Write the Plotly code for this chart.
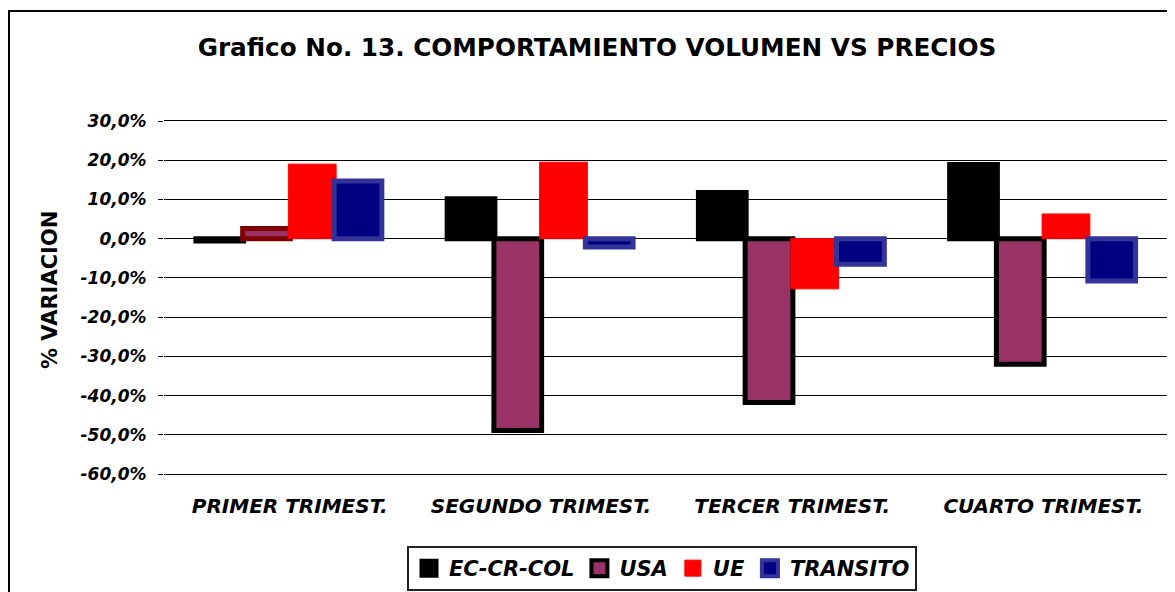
import plotly.graph_objects as go

categories = ["PRIMER TRIMEST.", "SEGUNDO TRIMEST.", "TERCER TRIMEST.", "CUARTO TRIMEST."]
series_names = ["EC-CR-COL", "USA", "UE", "TRANSITO"]
ec_cr_col = [-0.6, 10.2, 11.8, 18.9]
usa = [2.6, -48.9, -41.8, -32.0]
ue = [19.0, 19.5, -12.8, 6.3]
transito = [14.7, -2.1, -6.5, -10.8]
y_ticks = [30, 20, 10, 0, -10, -20, -30, -40, -50, -60]
y_tick_labels = ["30,0%", "20,0%", "10,0%", "0,0%", "-10,0%", "-20,0%", "-30,0%", "-40,0%", "-50,0%", "-60,0%"]
title_text = "Grafico No. 13. COMPORTAMIENTO VOLUMEN VS PRECIOS"
y_title = "% VARIACION"

FONT = "DejaVu Sans"
OFF = 8  # page body margin of the html page
PAGE_W, PAGE_H = 1175, 592
W, H = PAGE_W - OFF, PAGE_H - OFF
L, R, T, B = 164 - OFF, PAGE_W - 1169, 121 - OFF, PAGE_H - 474
PW, PH = W - L - R, H - T - B


def px_x(page_x):
    return (page_x - OFF - L) / PW


def px_y(page_y):
    return ((H - B) - (page_y - OFF)) / PH


fills = ["#000000", "#993366", "#FF0000", "#000080"]
borders = ["#000000", "#000000", "#FF0000", "#333399"]
bar_line_colors = [
    "#000000",
    ["#800000", "#000000", "#000000", "#000000"],
    "#FF0000",
    "#333399",
]
bar_line_widths = [5, 5, 1, 5]
legend_line_widths = [3, 4, 1, 4]
bar_w = 0.19
centers = [-0.278, -0.092, 0.09, 0.272]

fig = go.Figure()
for name, vals, fc, lc, lw, c in zip(series_names, [ec_cr_col, usa, ue, transito], fills,
                                      bar_line_colors, bar_line_widths, centers):
    fig.add_trace(go.Bar(
        x=categories, y=vals, name=name, showlegend=False,
        marker=dict(color=fc, line=dict(color=lc, width=lw)),
        width=bar_w, offset=c - bar_w / 2,
    ))

# legend keys (no data, only legend swatches)
for name, fc, bc, lw in zip(series_names, fills, borders, legend_line_widths):
    fig.add_trace(go.Scatter(
        x=[None], y=[None], mode="markers", name=name, showlegend=True,
        marker=dict(symbol="square", size=16, color=fc, line=dict(color=bc, width=lw)),
    ))

ymin, ymax = min(y_ticks), max(y_ticks)
zero_pos = (0 - ymin) / (ymax - ymin)

fig.update_layout(
    width=W, height=H,
    margin=dict(l=L, r=R, t=T, b=B, autoexpand=False),
    paper_bgcolor="white", plot_bgcolor="white",
    barmode="overlay",
    title=dict(text=title_text, x=(597 - OFF) / W, xanchor="center", y=1 - (47 - OFF) / H, yanchor="middle",
               font=dict(family=FONT, size=24.7, color="black", weight="bold")),
    showlegend=True,
    legend=dict(orientation="h", xref="container", yref="container",
                x=(662 - OFF) / W, xanchor="center", y=1 - (546 - OFF) / H, yanchor="top",
                bordercolor="#222222", borderwidth=2, bgcolor="white", itemsizing="trace",
                font=dict(family=FONT, size=21, color="black", weight="bold", style="italic"),
                traceorder="normal"),
    xaxis=dict(type="category", showgrid=False, zeroline=False, showline=True, mirror=True,
               linecolor="black", linewidth=1,
               ticks="", ticklabelstandoff=14, automargin=False,
               tickfont=dict(family=FONT, size=20, color="black", weight="bold", style="italic")),
    xaxis2=dict(overlaying="x", anchor="free", position=zero_pos, range=[-0.5, len(categories) - 0.5],
                tickvals=[i - 0.5 for i in range(len(categories) + 1)], ticks="outside", ticklen=5,
                tickcolor="black", showticklabels=False, showline=True, linecolor="black",
                linewidth=1, showgrid=False, zeroline=False, side="bottom", automargin=False),
    yaxis=dict(range=[ymin, ymax], tickvals=y_ticks, ticktext=y_tick_labels,
               showgrid=True, gridcolor="black", gridwidth=1,
               zeroline=True, zerolinecolor="black", zerolinewidth=1,
               ticks="outside", ticklen=5, tickcolor="black", ticklabelstandoff=8,
               showline=False, automargin=False,
               tickfont=dict(family=FONT, size=17, color="black", weight="bold", style="italic")),
    annotations=[dict(text=y_title, textangle=-90, xref="paper", yref="paper",
                      x=px_x(50), y=px_y(290),
                      xanchor="center", yanchor="middle", showarrow=False,
                      font=dict(family=FONT, size=21, color="black", weight="bold"))],
    shapes=[dict(type="rect", xref="paper", yref="paper",
                 x0=px_x(9), x1=1.3,
                 y0=-1.0, y1=px_y(11),
                 line=dict(color="black", width=2), fillcolor="rgba(0,0,0,0)", layer="below")],
)

fig.write_html("out.html")
